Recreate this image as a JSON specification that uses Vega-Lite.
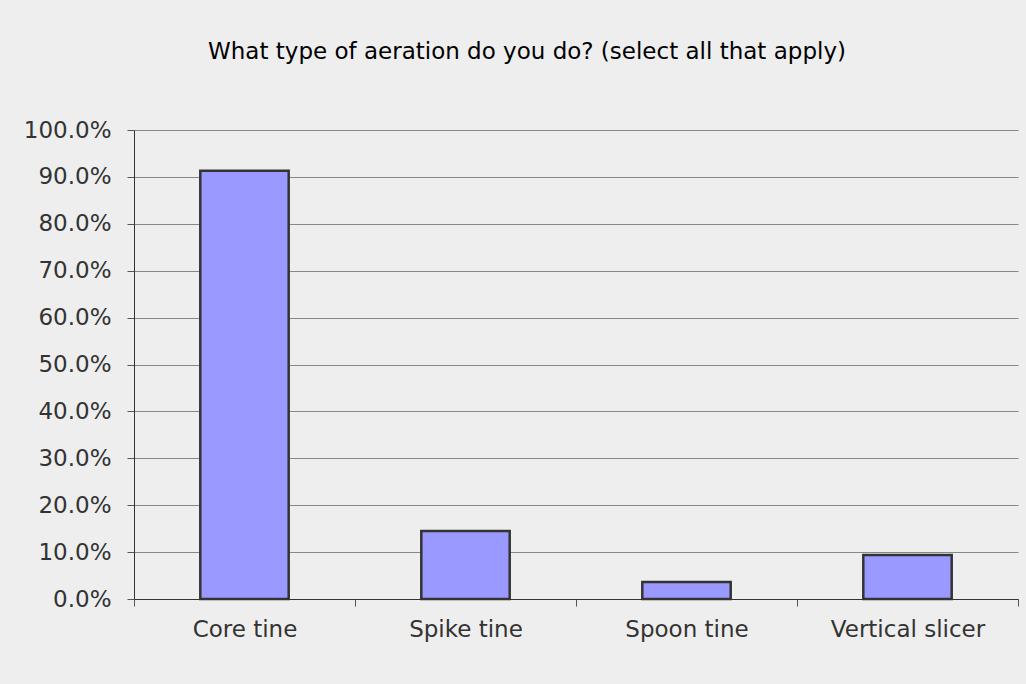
{
  "$schema": "https://vega.github.io/schema/vega-lite/v6.json",
  "width": 884,
  "height": 469,
  "autosize": "none",
  "padding": {"left": 134, "top": 130, "right": 8, "bottom": 85},
  "background": "#eeeeee",
  "title": {
    "text": "What type of aeration do you do? (select all that apply)",
    "font": "DejaVu Sans",
    "fontSize": 23,
    "fontWeight": "normal",
    "color": "#000000",
    "anchor": "middle",
    "offset": 55,
    "dx": -49
  },
  "data": {
    "values": [
      {"type": "Core tine", "pct": 0.913},
      {"type": "Spike tine", "pct": 0.145},
      {"type": "Spoon tine", "pct": 0.036},
      {"type": "Vertical slicer", "pct": 0.094}
    ]
  },
  "mark": {"type": "bar", "fill": "#9999ff", "stroke": "#333333", "strokeWidth": 2.5, "width": {"band": 0.4}},
  "encoding": {
    "x": {
      "field": "type",
      "type": "nominal",
      "sort": null,
      "scale": {"paddingInner": 0, "paddingOuter": 0},
      "axis": {
        "title": null,
        "labelAngle": 0,
        "labelFont": "DejaVu Sans",
        "labelFontSize": 23,
        "labelColor": "#333333",
        "labelPadding": 12,
        "tickBand": "extent",
        "tickSize": 7,
        "tickColor": "#555555",
        "domainColor": "#333333",
        "grid": false
      }
    },
    "y": {
      "field": "pct",
      "type": "quantitative",
      "scale": {"domain": [0, 1], "nice": false},
      "axis": {
        "title": null,
        "format": ".1%",
        "values": [0, 0.1, 0.2, 0.3, 0.4, 0.5, 0.6, 0.7, 0.8, 0.9, 1.0],
        "labelFont": "DejaVu Sans",
        "labelFontSize": 23,
        "labelColor": "#333333",
        "labelPadding": 16,
        "tickSize": 7,
        "tickColor": "#555555",
        "domainColor": "#333333",
        "grid": true,
        "gridColor": "#888888",
        "gridWidth": 1
      }
    }
  },
  "config": {
    "view": {"stroke": null}
  }
}
